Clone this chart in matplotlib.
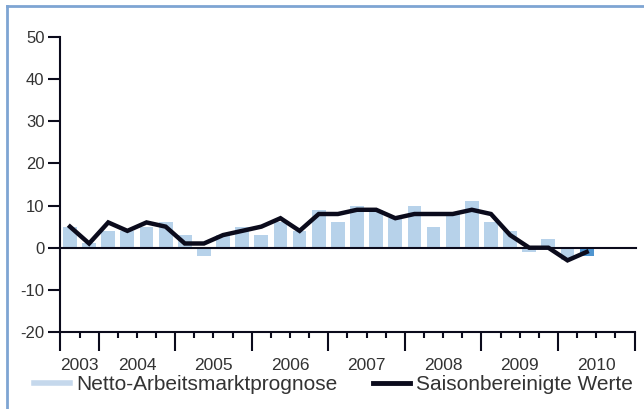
import matplotlib
matplotlib.use("Agg")
import matplotlib.pyplot as plt
from matplotlib.lines import Line2D
import numpy as np

plt.rcParams['font.family'] = ['Liberation Sans', 'DejaVu Sans']

# Quarterly data, 2003 Q3 .. 2010 Q2 (axis runs to end of 2010)
years = ["2003", "2004", "2005", "2006", "2007", "2008", "2009", "2010"]
quarters_per_year = [2, 4, 4, 4, 4, 4, 4, 4]
netto = [5, 1, 4, 4, 5, 6, 3, -2, 3, 5, 3, 6, 4, 9, 6, 10, 9, 7, 10, 5, 8, 11, 6, 4, -1, 2, -3, -2]
saison = [5, 1, 6, 4, 6, 5, 1, 1, 3, 4, 5, 7, 4, 8, 8, 9, 9, 7, 8, 8, 8, 9, 8, 3, 0, 0, -3, -1]
yticks = [-20, -10, 0, 10, 20, 30, 40, 50]

bar_color = "#b7d2ea"
last_color = "#4f95d0"
line_color = "#0b0b1c"
text_color = "#333333"
frame_color = "#7ea5d3"

fig = plt.figure(figsize=(6.44, 4.09), dpi=100)
ax = fig.add_axes([60.4 / 644, 1 - 332 / 409, (634.5 - 60.4) / 644, (332 - 37) / 409])

n = len(netto)
x = np.arange(n) + 0.5
colors = [bar_color] * (n - 1) + [last_color]
ax.bar(x, netto, width=0.72, color=colors, zorder=2)
ax.plot(x, saison, color=line_color, lw=3.2, zorder=4, solid_joinstyle='miter')

total = sum(quarters_per_year)
ax.plot([0, total + 0.1], [0, 0], color=line_color, lw=1.5, zorder=3, clip_on=False)
ax.set_xlim(0, total)
ax.set_ylim(-20, 50)

for s in ["top", "right"]:
    ax.spines[s].set_visible(False)
for s in ["left", "bottom"]:
    ax.spines[s].set_color(line_color)
    ax.spines[s].set_linewidth(1.5)

ax.set_yticks(yticks)
ax.set_yticklabels([str(v) for v in yticks], fontsize=12, color=text_color)
ax.tick_params(axis='y', length=8.5, width=1.5, color=line_color, pad=3)

bounds = np.concatenate([[0], np.cumsum(quarters_per_year)])
ax.set_xticks(bounds)
ax.set_xticklabels([])
ax.set_xticks(np.arange(0, total + 1), minor=True)
ax.tick_params(axis='x', which='major', length=13.5, width=1.5, color=line_color)
ax.tick_params(axis='x', which='minor', length=4.5, width=1.5, color=line_color)

centers = (bounds[:-1] + bounds[1:]) / 2
for c, yr in zip(centers, years):
    ax.text(c, -0.088, yr, transform=ax.get_xaxis_transform(), ha='center', va='top',
            fontsize=12.5, color=text_color)

handles = [Line2D([], [], color="#c5d8ec", lw=4),
           Line2D([], [], color=line_color, lw=3.5)]
leg = fig.legend(handles, ["Netto-Arbeitsmarktprognose", "Saisonbereinigte Werte"],
                 loc='center left', bbox_to_anchor=(34 / 644, 1 - 385 / 409), ncol=2,
                 frameon=False, fontsize=15, handlelength=1.75, handletextpad=0.3,
                 columnspacing=1.7, borderpad=0, borderaxespad=0)
for t in leg.get_texts():
    t.set_color(text_color)

# outer frame (top and left edges)
fig.add_artist(Line2D([6.5 / 644, 1.0], [1 - 5.5 / 409, 1 - 5.5 / 409], color=frame_color, lw=2))
fig.add_artist(Line2D([6.5 / 644, 6.5 / 644], [0, 1 - 5.5 / 409], color=frame_color, lw=2))

fig.savefig("out.png", dpi=100)
